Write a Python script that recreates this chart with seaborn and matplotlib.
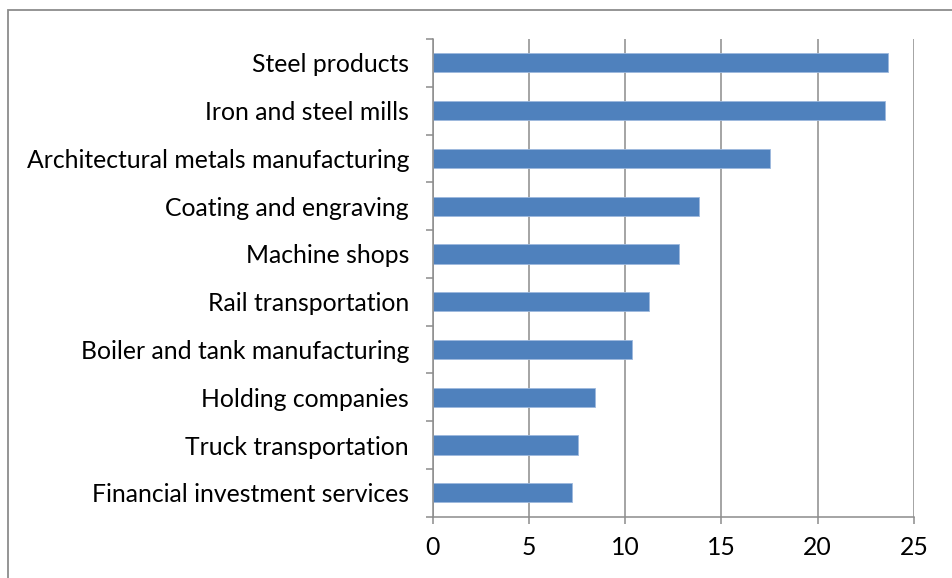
import numpy as np
import pandas as pd
import matplotlib
matplotlib.use("Agg")
import matplotlib.pyplot as plt
import seaborn as sns
from matplotlib.patches import Rectangle

categories = [
    "Steel products",
    "Iron and steel mills",
    "Architectural metals manufacturing",
    "Coating and engraving",
    "Machine shops",
    "Rail transportation",
    "Boiler and tank manufacturing",
    "Holding companies",
    "Truck transportation",
    "Financial investment services",
]
values = [23.67, 23.5, 17.54, 13.82, 12.81, 11.25, 10.34, 8.41, 7.55, 7.22]
xticks = [0, 5, 10, 15, 20, 25]

sns.set_style("white")
plt.rcParams["font.family"] = ["Lato", "DejaVu Sans"]

df = pd.DataFrame({"category": categories, "value": values})

fig = plt.figure(figsize=(9.52, 5.78), dpi=100)
ax = fig.add_axes([0.4545, 0.1061, 0.9601 - 0.4545, 0.9325 - 0.1061])

sns.barplot(data=df, x="value", y="category", order=categories, orient="h",
            color="#4F81BD", saturation=1, width=0.4, ax=ax,
            edgecolor="#9DB9DD", linewidth=0.6)

grid_c = "#8C8C8C"
ax.set_xlim(0, 25)
ax.set_ylim(len(categories) - 0.5, -0.5)
ax.set_xticks(xticks)
ax.set_xticklabels([str(t) for t in xticks])
ax.xaxis.grid(True, color=grid_c, linewidth=1.1)
ax.yaxis.grid(False)
ax.set_axisbelow(True)
ax.set_xlabel("")
ax.set_ylabel("")

for s in ["top", "right"]:
    ax.spines[s].set_visible(False)
for s in ["left", "bottom"]:
    ax.spines[s].set_color(grid_c)
    ax.spines[s].set_linewidth(1.1)

ax.set_yticks(np.arange(-0.5, len(categories), 1), minor=True)
ax.tick_params(axis="y", which="major", length=0, pad=17, labelsize=17.8, labelcolor="black")
ax.tick_params(axis="y", which="minor", length=5, width=1.1, color=grid_c, direction="out", left=True)
ax.tick_params(axis="x", which="major", length=5, width=1.1, color=grid_c, direction="out",
               bottom=True, pad=9, labelsize=17.8, labelcolor="black")

fig.patches.append(Rectangle((8 / 952, -0.05), 1.2, 1 - 10 / 578 + 0.05,
                             transform=fig.transFigure, fill=False,
                             edgecolor="#8C8C8C", linewidth=1.3, clip_on=False))

fig.savefig("out.png", dpi=100)
